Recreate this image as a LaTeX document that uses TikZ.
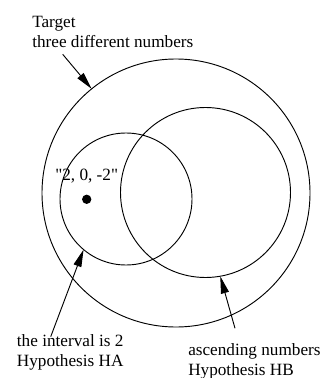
\documentclass[tikz,border=0pt]{standalone}
\usepackage{fontspec}
\setmainfont{Liberation Serif}[Ligatures=TeXOff]
\usetikzlibrary{arrows.meta}

\begin{document}
\begin{tikzpicture}[
    x=0.75pt, y=-0.75pt,
    font=\fontsize{12.9}{15}\selectfont,
    ring/.style={circle, draw, line width=0.7pt, inner sep=0pt, outer sep=0pt},
    caption/.style={align=left, inner sep=0pt, anchor=base west},
    pointer/.style={-{Triangle[length=13pt, width=6pt]}, line width=0.7pt},
]
\useasboundingbox (0,0) rectangle (322,378);

% ---- Sets ----
\node[ring, minimum size=201pt]   (target) at (176,193) {};
\node[ring, minimum size=99pt]    (hypa)   at (126,199) {};
\node[ring, minimum size=127.5pt] (hypb)   at (205.5,192.5) {};

% ---- Example sequence ----
\node[circle, fill, inner sep=0pt, minimum size=7pt] (seq) at (86.7,199.3) {};
\node[inner sep=0pt, anchor=base] (seqlabel) at (86.7,180) {"2, 0, -2"};

% ---- Labels (anchored on the last line) ----
\node[caption] (tgtlabel) at (32,47.3)    {Target\\three different numbers};
\node[caption] (halabel)  at (16.7,366.7) {the interval is 2\\Hypothesis HA};
\node[caption] (hblabel)  at (188,375)    {ascending numbers\\Hypothesis HB};

% ---- Arrow feet ----
\coordinate (tgtfoot) at (62.7,54.3);
\coordinate (hafoot)  at (50.7,336.7);
\coordinate (hbfoot)  at (235,328.3);

% ---- Arrows ----
\draw[pointer] (tgtfoot) -- (target.129);
\draw[pointer] (hafoot)  -- (hypa.230);
\draw[pointer] (hbfoot)  -- (hypb.280);

\end{tikzpicture}
\end{document}
